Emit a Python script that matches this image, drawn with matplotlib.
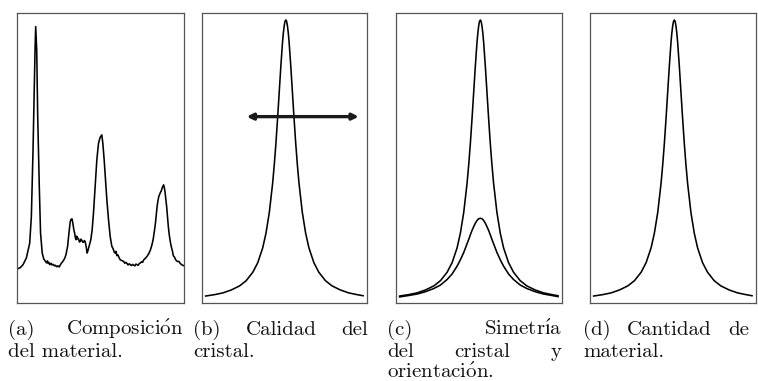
import matplotlib
matplotlib.use("Agg")
import matplotlib.pyplot as plt

plt.rcParams["mathtext.fontset"] = "cm"
plt.rcParams["mathtext.default"] = "rm"

# ---------------- data (box-relative units, 0..100) ----------------
# Panel (a): diffraction pattern
a_x = [0, 2.0, 3.6, 5.6, 7.6, 8.6, 9.6, 10.2, 10.8, 11.2, 11.8, 12.4, 13.3, 14.1, 15.1, 16.0, 16.7,
       17.7, 18.3, 18.7, 19.2, 19.7, 20.4, 21.0, 21.7, 22.4, 23.0, 23.7, 24.5, 25.3, 26.0, 26.7, 27.4, 28.1, 28.7, 29.3,
       30.3, 31.1, 31.9, 32.4, 32.9, 33.3, 33.7, 34.1, 34.5, 34.9, 35.3, 35.7, 36.1, 36.5, 36.9, 37.4, 37.8, 38.3, 38.8,
       39.3, 39.8, 40.3, 40.8, 41.4, 42.0, 42.6, 43.4,
       44.2, 45.0, 45.8, 46.8, 47.8, 48.8, 49.8, 50.3, 50.8, 51.4, 52.2, 53.0, 53.8, 54.8, 55.8, 56.8, 57.3, 57.8, 58.3,
       58.8, 59.3, 59.8, 60.3, 60.8, 61.3, 61.8,
       62.8, 63.9, 64.5, 65.2, 65.9, 66.5, 67.2, 67.9, 68.5, 69.2, 69.9, 70.6, 71.2, 71.9, 72.6, 73.2, 73.9, 74.6, 75.2,
       75.9, 76.9, 77.9, 78.9, 79.9,
       80.7, 81.5, 82.2, 82.9, 83.4, 83.9, 84.4, 84.9, 85.4, 85.9, 86.4, 86.9, 87.4, 87.8, 88.2, 88.6, 89.1, 89.6, 90.1,
       90.6, 91.1, 91.6, 92.1, 92.6, 93.1, 93.6, 94.3, 95.0, 96.0, 97.0, 97.8, 98.6, 99.3, 100]
a_y = [11.7, 12.2, 13.2, 15.5, 20.6, 29.8, 52.8, 70.0, 87.2, 95.2, 87.2, 64.2, 41.3, 24.1, 17.2, 15.2, 14.6,
       13.8, 14.5, 13.6, 13.9, 13.2, 13.7, 13.1, 13.3, 12.8, 13.0, 12.5, 12.8, 12.4, 13.2, 13.8, 14.3, 14.9, 15.6, 16.6,
       19.5, 24.1, 28.1, 28.8, 29.0, 28.0, 26.4, 25.0, 24.1, 22.6, 21.8, 23.0, 22.7, 22.0, 22.0, 21.0, 21.2, 22.0, 21.6,
       21.0, 20.9, 21.5, 21.2, 19.5, 17.2, 18.3, 20.1,
       21.8, 25.2, 31.0, 40.1, 49.3, 55.0, 57.1, 57.5, 57.9, 55.0, 49.3, 42.4, 35.6, 28.7, 22.9, 19.5, 19.0, 18.3, 17.4,
       17.2, 17.8, 16.3, 16.6, 16.1, 15.4, 14.9,
       14.6, 14.3, 13.7, 14.0, 13.6, 13.1, 13.5, 13.2, 12.9, 13.3, 13.0, 12.8, 13.4, 13.2, 13.0, 13.6, 13.8, 14.2, 14.0,
       14.9, 15.4, 16.1, 17.0, 18.3,
       19.8, 21.8, 24.5, 27.5, 30.5, 33.3, 35.2, 36.7, 37.4, 38.1, 38.6, 39.6, 40.2, 40.7, 39.8, 38.4, 36.0, 33.3, 29.8,
       26.4, 23.8, 21.8, 20.2, 18.9, 17.8, 16.3, 15.8, 14.9, 14.3, 14.3, 13.6, 13.2, 13.0, 12.8]

# Panels (b), (c), (d): single peak profiles
peak_x = [2.2, 7.8, 12.8, 17.8, 22.8, 26.8, 30.8, 33.8, 36.8, 38.8, 40.8, 42.8, 43.8, 44.8, 45.8, 46.8, 47.8,
          48.8, 49.3, 49.8, 50.3, 50.8, 51.3, 51.8, 52.3, 52.8, 53.8, 54.8, 55.8, 56.8, 57.8, 58.8, 60.8, 62.8,
          64.8, 67.8, 70.8, 74.8, 78.8, 83.8, 88.8, 93.8, 97.6]
sharp_y = [2.4, 2.9, 3.5, 4.5, 5.9, 7.7, 10.6, 13.9, 19.0, 24.1, 31.2, 41.2, 47.6, 55.0, 63.5, 72.6, 81.7,
           89.8, 93.0, 95.4, 97.0, 97.5, 97.0, 95.4, 93.0, 89.8, 81.7, 72.6, 63.5, 55.0, 47.6, 41.2, 31.2, 24.1,
           19.0, 13.9, 10.6, 7.7, 5.9, 4.5, 3.5, 2.9, 2.5]
broad_y = [2.1, 2.6, 3.1, 3.9, 5.0, 6.2, 8.1, 10.0, 12.7, 14.9, 17.4, 20.4, 21.9, 23.5, 25.0, 26.3, 27.5,
           28.4, 28.8, 29.0, 29.1, 29.2, 29.1, 29.0, 28.8, 28.4, 27.5, 26.3, 25.0, 23.5, 21.9, 20.4, 17.4, 14.9,
           12.7, 10.0, 8.1, 6.2, 5.0, 3.9, 3.1, 2.6, 2.2]

# Width arrow in panel (b)
arrow_x = [27.1, 95.0]
arrow_y = 64.2

# Captions: lines of words (justified lines) and final left-aligned line
captions = [
    [["(a)", r"Composici$\acute{o}$n"], "del material."],
    [["(b)", "Calidad", "del"], "cristal."],
    [["(c)", r"Simetr$\acute{ı}$a"], ["del", "cristal", "y"], r"orientaci$\acute{o}$n."],
    [["(d)", "Cantidad", "de"], "material."],
]

# ---------------- layout ----------------
W, H = 758, 381
fig = plt.figure(figsize=(W / 100, H / 100), dpi=100)

boxes = [(17, 184), (202, 367), (396, 562), (590, 756)]
box_top, box_bot = 12.7, 303.0
cap_ranges = [(8, 183), (193, 368), (387, 562), (583, 749)]
baselines = [335, 357, 378]

axes = []
for (x0, x1) in boxes:
    ax = fig.add_axes([x0 / W, (H - box_bot) / H, (x1 - x0) / W, (box_bot - box_top) / H])
    ax.set_xlim(0, 100)
    ax.set_ylim(0, 100)
    ax.set_xticks([])
    ax.set_yticks([])
    for s in ax.spines.values():
        s.set_color("#555555")
        s.set_linewidth(0.9)
    axes.append(ax)

lw = 1.15
axes[0].plot(a_x, a_y, color="black", lw=lw)
axes[1].plot(peak_x, sharp_y, color="black", lw=lw)
axes[1].annotate("", xy=(arrow_x[1], arrow_y), xytext=(arrow_x[0], arrow_y),
                 arrowprops=dict(arrowstyle="<|-|>", lw=2.4, color="#1a1a1a",
                                 mutation_scale=9, shrinkA=0, shrinkB=0))
axes[2].plot(peak_x, sharp_y, color="black", lw=lw)
axes[2].plot(peak_x, broad_y, color="black", lw=lw)
axes[3].plot(peak_x, sharp_y, color="black", lw=lw)

# ---------------- captions ----------------
font = dict(family=["cmr10", "DejaVu Serif"], fontsize=15.0, color="#111111")
fig.canvas.draw()
renderer = fig.canvas.get_renderer()

for cap, (cx0, cx1) in zip(captions, cap_ranges):
    for li, line in enumerate(cap):
        yb = (H - baselines[li]) / H
        if isinstance(line, list):
            texts = [fig.text(0, yb, w, ha="left", va="baseline", **font) for w in line]
            widths = [t.get_window_extent(renderer).width for t in texts]
            gap = (cx1 - cx0 - sum(widths)) / (len(texts) - 1)
            x = cx0
            for t, wdt in zip(texts, widths):
                t.set_x(x / W)
                x += wdt + gap
        else:
            fig.text(cx0 / W, yb, line, ha="left", va="baseline", **font)

fig.savefig("out.png", dpi=100)
